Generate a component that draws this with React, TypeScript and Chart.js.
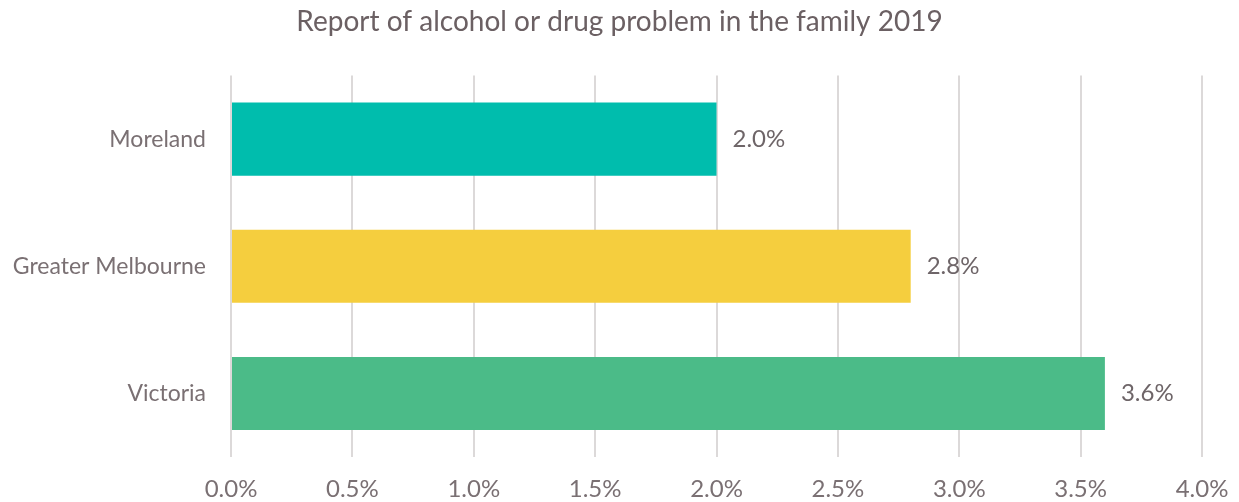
import React, { useEffect, useRef } from "react";
import { Chart, registerables } from "chart.js";

Chart.register(...registerables);

const categories = ["Moreland", "Greater Melbourne", "Victoria"];
const values = [2.0, 2.8, 3.6];
const barColors = ["#00BDAD", "#F5CE3E", "#4BBB88"];
const xTicks = [0, 0.5, 1, 1.5, 2, 2.5, 3, 3.5, 4];
const titleText = "Report of alcohol or drug problem in the family 2019";

const FONT = "Lato, 'Noto Sans', sans-serif";
const TEXT = "#7a7073";

const valueLabels = {
  id: "valueLabels",
  afterDatasetsDraw(chart: any) {
    const ctx = chart.ctx;
    const meta = chart.getDatasetMeta(0);
    ctx.save();
    ctx.font = `24px ${FONT}`;
    ctx.fillStyle = "#6e6568";
    ctx.textAlign = "left";
    ctx.textBaseline = "middle";
    meta.data.forEach((bar: any, i: number) => {
      ctx.fillText(values[i].toFixed(1) + "%", bar.x + 16, bar.y);
    });
    ctx.restore();
  },
};

export default function App() {
  const ref = useRef<HTMLCanvasElement>(null);
  useEffect(() => {
    document.body.style.margin = "0";
    const chart = new Chart(ref.current!, {
      type: "bar",
      data: {
        labels: categories,
        datasets: [
          {
            data: values,
            backgroundColor: barColors,
            categoryPercentage: 1,
            barPercentage: 0.575,
          },
        ],
      },
      options: {
        indexAxis: "y",
        animation: false,
        responsive: false,
        maintainAspectRatio: false,
        layout: { padding: 0 },
        plugins: {
          legend: { display: false },
          tooltip: { enabled: false },
          title: {
            display: true,
            text: titleText,
            color: "#6b6063",
            font: { family: FONT, size: 28, weight: "normal" },
            padding: { top: 5, bottom: 37 },
          },
        },
        scales: {
          x: {
            min: 0,
            max: 4,
            afterBuildTicks: (s: any) => {
              s.ticks = xTicks.map((v) => ({ value: v }));
            },
            afterFit: (s: any) => {
              s.height = 45;
              s.paddingLeft = 0;
              s.paddingRight = 37;
            },
            grid: { color: "#dcd9d9", lineWidth: 2, drawTicks: false },
            border: { display: false },
            ticks: {
              padding: 18,
              color: TEXT,
              font: { family: FONT, size: 24 },
              callback: (v: any) => Number(v).toFixed(1) + "%",
            },
          },
          y: {
            afterFit: (s: any) => {
              s.width = 231;
            },
            grid: { display: false, drawTicks: false },
            border: { display: false },
            ticks: {
              padding: 25,
              color: TEXT,
              font: { family: FONT, size: 23 },
            },
          },
        },
      },
      plugins: [valueLabels],
    });
    return () => chart.destroy();
  }, []);
  return <canvas ref={ref} width={1239} height={502} style={{ display: "block" }} />;
}
